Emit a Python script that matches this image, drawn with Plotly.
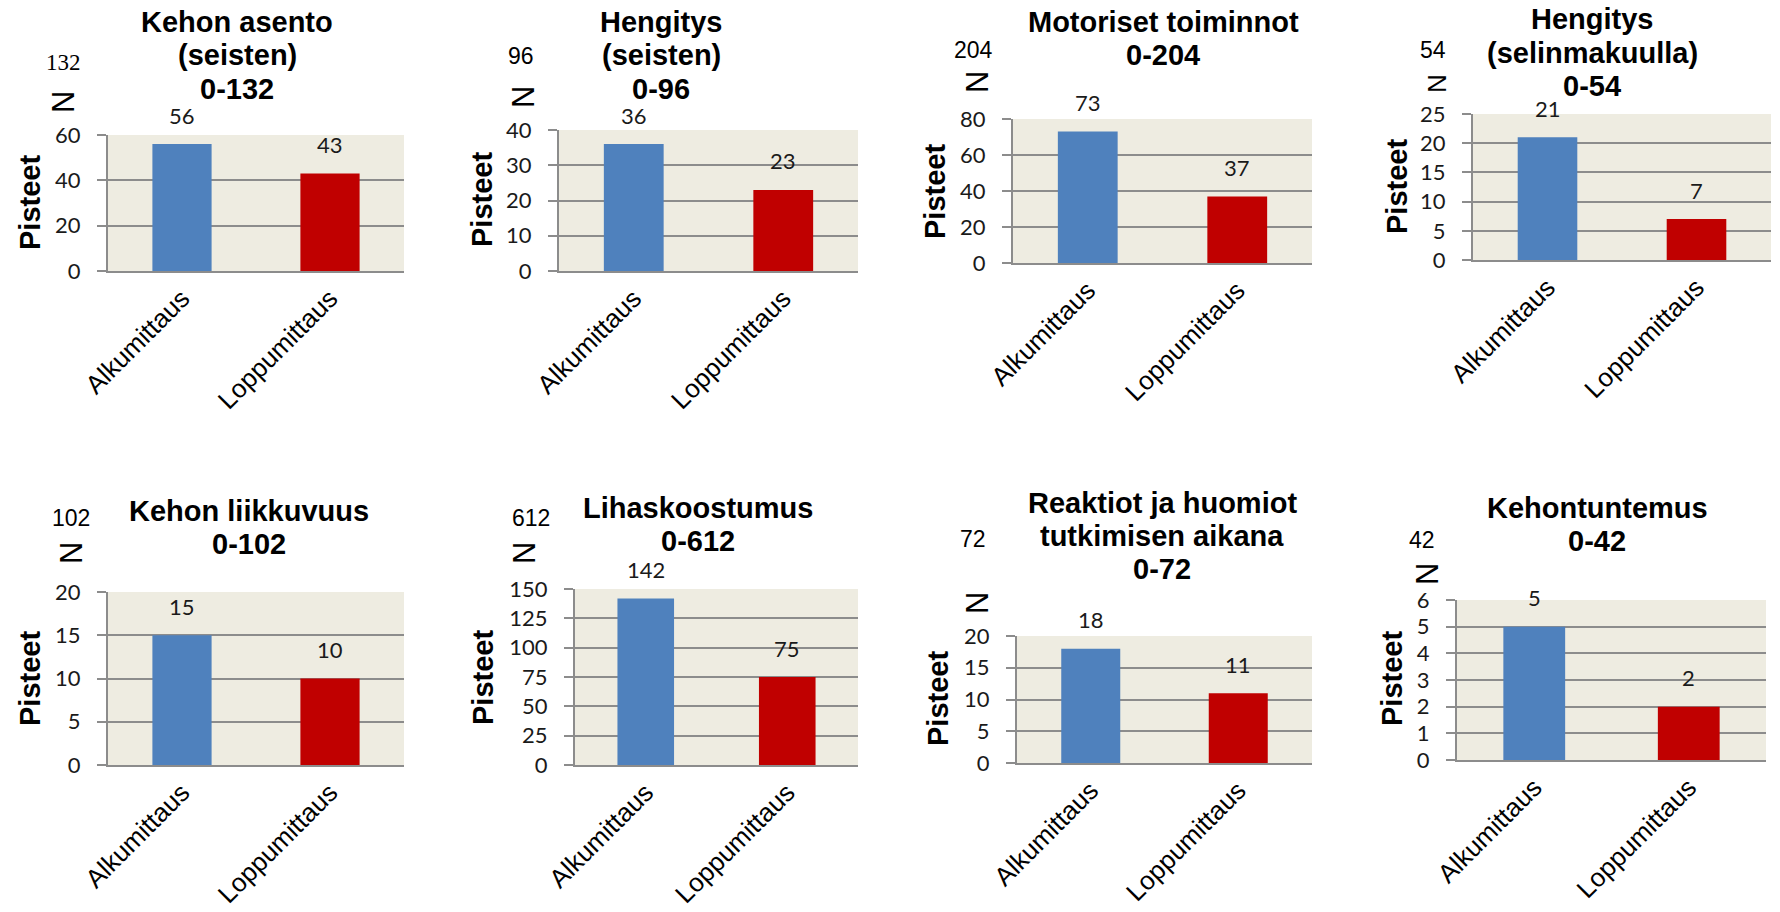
import plotly.graph_objects as go

# ---- data -------------------------------------------------------------
categories = ["Alkumittaus", "Loppumittaus"]
title_lines = [
    ["Kehon asento", "(seisten)"],
    ["Hengitys", "(seisten)"],
    ["Motoriset toiminnot"],
    ["Hengitys", "(selinmakuulla)"],
    ["Kehon liikkuvuus"],
    ["Lihaskoostumus"],
    ["Reaktiot ja huomiot", "tutkimisen aikana"],
    ["Kehontuntemus"],
]
max_scores = [132, 96, 204, 54, 102, 612, 72, 42]
alkumittaus = [56, 36, 73, 21, 15, 142, 18, 5]
loppumittaus = [43, 23, 37, 7, 10, 75, 11, 2]
axis_max = [60, 40, 80, 25, 20, 150, 20, 6]
axis_step = [20, 10, 20, 5, 5, 25, 5, 1]
y_title = "Pisteet"
n_label = "N"

# ---- styling ----------------------------------------------------------
W, H = 1780, 912
BLUE = "#4F81BD"
RED = "#C00000"
PLOT_BG = "#EEECE1"
GRID = "#8C8C8C"
SANS = "Liberation Sans, Arial, sans-serif"
SERIF = "Liberation Serif, Times New Roman, serif"
NUM = "Lato, Carlito, Calibri, sans-serif"

# panel geometry in page pixels: plot box (left, right, top, bottom),
# title centre x and line centres y, max-score label, "N" and axis title spots
panels = [
    dict(box=(108, 404, 135, 271), tx=237, ty=[22, 55, 89], num=(63, 63), nfont=SERIF, n=(64, 102), nsize=31, yt=(30, 203)),
    dict(box=(559, 858, 130, 271), tx=661, ty=[22, 55, 89], num=(521, 56), nfont=SANS, n=(523, 97), nsize=31, yt=(482, 200)),
    dict(box=(1013, 1312, 119, 263), tx=1163, ty=[22, 55], num=(973, 50), nfont=SANS, n=(977, 82), nsize=31, yt=(935, 192)),
    dict(box=(1473, 1771, 114, 260), tx=1592, ty=[19, 53, 86], num=(1433, 50), nfont=SANS, n=(1437, 84), nsize=26, yt=(1397, 187)),
    dict(box=(108, 404, 592, 765), tx=249, ty=[511, 544], num=(71, 518), nfont=SANS, n=(71, 553), nsize=31, yt=(30, 679)),
    dict(box=(575, 858, 589, 765), tx=698, ty=[508, 541], num=(531, 518), nfont=SANS, n=(524, 553), nsize=31, yt=(483, 678)),
    dict(box=(1017, 1312, 636, 763), tx=1162, ty=[503, 536, 569], num=(973, 539), nfont=SANS, n=(977, 603), nsize=31, yt=(938, 699)),
    dict(box=(1457, 1766, 600, 760), tx=1597, ty=[508, 541], num=(1422, 540), nfont=SANS, n=(1427, 574), nsize=31, yt=(1392, 679)),
]


def px(x):
    return x / W


def py(y):
    return 1 - y / H


fig = go.Figure()
annotations = []
layout_axes = {}

for i, p in enumerate(panels):
    k = "" if i == 0 else str(i + 1)
    xref, yref = "x" + k, "y" + k
    left, right, top, bottom = p["box"]
    values = [alkumittaus[i], loppumittaus[i]]

    fig.add_trace(go.Bar(
        x=categories, y=values, width=0.4,
        marker=dict(color=[BLUE, RED], line=dict(width=0)),
        xaxis=xref, yaxis=yref, showlegend=False, hoverinfo="skip",
    ))

    layout_axes["xaxis" + k] = dict(
        domain=[px(left), px(right)], anchor=yref, type="category",
        range=[-0.5, 1.5], showgrid=False, zeroline=False, automargin=False,
        showline=True, linecolor=GRID, linewidth=2, ticks="",
        tickangle=-45, tickfont=dict(family=SANS, size=26, color="#000000"),
        fixedrange=True,
    )
    layout_axes["yaxis" + k] = dict(
        domain=[py(bottom), py(top)], anchor=xref, automargin=False,
        range=[0, axis_max[i]], dtick=axis_step[i], tick0=0,
        showgrid=True, gridcolor=GRID, gridwidth=2, zeroline=False,
        showline=True, linecolor=GRID, linewidth=2,
        ticks="outside", ticklen=9, tickwidth=2, tickcolor=GRID,
        ticklabelstandoff=12,
        tickfont=dict(family=NUM, size=22, color="#1A1A1A"),
        fixedrange=True,
    )

    # value labels above the bars
    for cat, v in zip(categories, values):
        annotations.append(dict(
            x=cat, y=v, xref=xref, yref=yref, text=str(v), showarrow=False,
            yanchor="middle", yshift=29,
            font=dict(family=NUM, size=22, color="#1A1A1A"),
        ))

    # chart title
    lines = title_lines[i] + ["0-%d" % max_scores[i]]
    for line, yc in zip(lines, p["ty"]):
        annotations.append(dict(
            x=px(p["tx"]), y=py(yc), xref="paper", yref="paper",
            text="<b>%s</b>" % line, showarrow=False,
            xanchor="center", yanchor="middle",
            font=dict(family=SANS, size=29, color="#000000"),
        ))

    # maximum score and rotated "N"
    annotations.append(dict(
        x=px(p["num"][0]), y=py(p["num"][1]), xref="paper", yref="paper",
        text=str(max_scores[i]), showarrow=False,
        xanchor="center", yanchor="middle",
        font=dict(family=p["nfont"], size=23, color="#000000"),
    ))
    annotations.append(dict(
        x=px(p["n"][0]), y=py(p["n"][1]), xref="paper", yref="paper",
        text=n_label, showarrow=False, textangle=-90,
        xanchor="center", yanchor="middle",
        font=dict(family=SANS, size=p["nsize"], color="#000000"),
    ))

    # y-axis title
    annotations.append(dict(
        x=px(p["yt"][0]), y=py(p["yt"][1]), xref="paper", yref="paper",
        text="<b>%s</b>" % y_title, showarrow=False, textangle=-90,
        xanchor="center", yanchor="middle",
        font=dict(family=SANS, size=29, color="#000000"),
    ))

fig.update_layout(
    width=W, height=H,
    margin=dict(l=0, r=0, t=0, b=0, autoexpand=False),
    paper_bgcolor="#FFFFFF", plot_bgcolor=PLOT_BG,
    bargap=0.6, annotations=annotations, showlegend=False,
    **layout_axes,
)

fig.write_html("out.html", config=dict(displayModeBar=False))
